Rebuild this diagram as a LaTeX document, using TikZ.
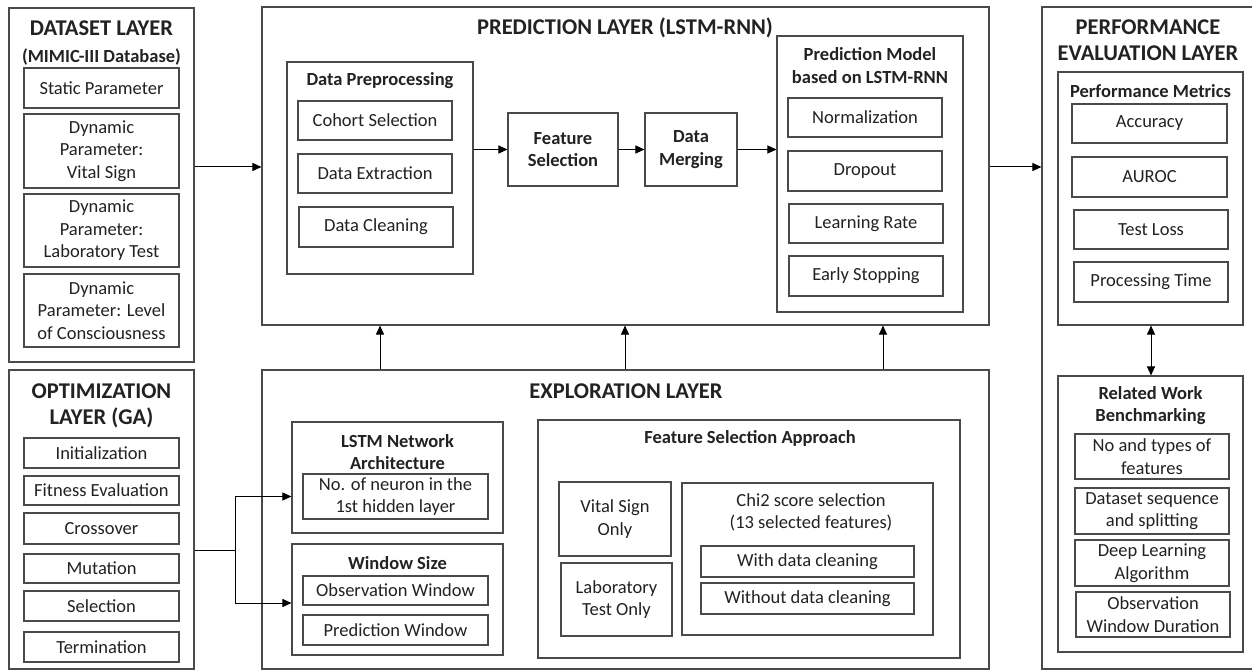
\documentclass[tikz,border=0pt]{standalone}
\usepackage{fontspec}
\setmainfont{Carlito}
\usetikzlibrary{arrows.meta}
\definecolor{lc}{HTML}{4A4A4A}
\definecolor{tc}{HTML}{222222}
\newcommand\myNf{\fontsize{18.5}{22.5}\selectfont}
\newcommand\mySf{\fontsize{18.5}{22.5}\selectfont\bfseries}
\newcommand\myTf{\fontsize{22.5}{26}\selectfont\bfseries}
\begin{document}
\begin{tikzpicture}[x=1pt,y=-1pt,
  box/.style={draw=lc, line width=1.1pt, inner sep=0pt, align=center, font=\myNf, text=tc},
  sz/.style 2 args={minimum width=#1pt, minimum height=#2pt},
  ttl/.style={inner sep=0pt, align=center, font=\myTf, text=tc},
  sub/.style={inner sep=0pt, align=center, font=\mySf, text=tc},
  txt/.style={inner sep=0pt, align=center, font=\myNf, text=tc},
  arr/.style={draw=black, line width=1pt, -{Triangle[length=9pt,width=8pt]}},
  ln/.style={draw=black, line width=1pt}]
\useasboundingbox (0,0) rectangle (1252,671);
\fill[white] (0,0) rectangle (1252,671);

% ---------- DATASET LAYER ----------
\node[box, sz={185}{354}] (ds) at (101.5,185) {};
\node[ttl] (dsT) at (101.5,28) {DATASET LAYER};
\node[sub] (dsS) at (101.5,57) {(MIMIC-III Database)};
\node[box, sz={155}{40}] (sp) at (101.5,88) {Static Parameter};
\node[box, sz={155}{74}] (vs) at (101.5,151) {Dynamic\\Parameter:\\Vital Sign};
\node[box, sz={155}{73}] (lt) at (101.5,230.5) {Dynamic\\Parameter:\\Laboratory Test};
\node[box, sz={155}{73}] (lc) at (101.5,310.5) {Dynamic\\Parameter: Level\\of Consciousness};

% ---------- OPTIMIZATION LAYER ----------
\node[box, sz={185}{299}] (opt) at (101.5,519.5) {};
\node[ttl] (optT1) at (101.5,391) {OPTIMIZATION};
\node[ttl] (optT2) at (101.5,418) {LAYER (GA)};
\node[box, sz={155}{30}] (ini) at (101.5,453) {Initialization};
\node[box, sz={155}{29}] (fit) at (101.5,490.5) {Fitness Evaluation};
\node[box, sz={155}{31}] (cro) at (101.5,528.5) {Crossover};
\node[box, sz={155}{29}] (mut) at (101.5,568.5) {Mutation};
\node[box, sz={155}{30}] (sel) at (101.5,606) {Selection};
\node[box, sz={155}{30}] (ter) at (101.5,647) {Termination};

% ---------- PREDICTION LAYER ----------
\node[box, sz={727}{318}] (pred) at (625.5,166) {};
\node[ttl] (predT) at (625,28) {PREDICTION LAYER (LSTM-RNN)};
\node[box, sz={186}{212}] (dp) at (380,168) {};
\node[sub] (dpT) at (380,81) {Data Preprocessing};
\node[box, sz={154}{39}] (coh) at (375,120.5) {Cohort Selection};
\node[box, sz={154}{39}] (ext) at (375,173.5) {Data Extraction};
\node[box, sz={154}{40}] (cln) at (376,227) {Data Cleaning};
\node[box, sz={110}{73}, font=\mySf] (fs) at (563,149.5) {Feature\\Selection};
\node[box, sz={92}{73}, font=\mySf] (dm) at (691,149.5) {Data\\Merging};
\node[box, sz={186}{276}] (pm) at (870,174) {};
\node[sub] (pmT) at (870,65.5) {Prediction Model\\based on LSTM-RNN};
\node[box, sz={154}{39}] (nor) at (865,117.5) {Normalization};
\node[box, sz={154}{40}] (dro) at (865,171) {Dropout};
\node[box, sz={154}{39}] (lr) at (866,223.5) {Learning Rate};
\node[box, sz={154}{40}] (es) at (866,276) {Early Stopping};

% ---------- PERFORMANCE EVALUATION LAYER ----------
\node[box, sz={222}{662}] (perf) at (1153,338) {};
\node[ttl] (perfT) at (1148,40.5) {PERFORMANCE\\EVALUATION LAYER};
\node[box, sz={185}{253}] (met) at (1150.5,198.5) {};
\node[sub] (metT) at (1150.5,91) {Performance Metrics};
\node[box, sz={155}{39}] (acc) at (1149.5,123.5) {Accuracy};
\node[box, sz={155}{40}] (aur) at (1149.5,177) {AUROC};
\node[box, sz={154}{39}] (tl) at (1151,229.5) {Test Loss};
\node[box, sz={154}{40}] (pt) at (1151,282) {Processing Time};
\node[box, sz={185}{276}] (rw) at (1150.5,514) {};
\node[sub] (rwT) at (1150.5,405.5) {Related Work\\Benchmarking};
\node[box, sz={154}{45}] (nt) at (1152,456.5) {No and types of\\features};
\node[box, sz={154}{46}] (dss) at (1152,511) {Dataset sequence\\and splitting};
\node[box, sz={154}{46}] (dla) at (1152,563) {Deep Learning\\Algorithm};
\node[box, sz={154}{45}] (owd) at (1153,614.5) {Observation\\Window Duration};

% ---------- EXPLORATION LAYER ----------
\node[box, sz={727}{299}] (expl) at (625.5,519.5) {};
\node[ttl] (explT) at (626,391) {EXPLORATION LAYER};
\node[box, sz={211}{111}] (lstm) at (397.5,477.5) {};
\node[sub] (lstmT) at (397.5,452) {LSTM Network\\Architecture};
\node[box, sz={185}{45}] (nn) at (395.5,496.5) {No. of neuron in the\\1st hidden layer};
\node[box, sz={211}{111}] (win) at (397.5,599.5) {};
\node[sub] (winT) at (397.5,563) {Window Size};
\node[box, sz={185}{29}] (ow) at (395.5,590.5) {Observation Window};
\node[box, sz={185}{30}] (pw) at (395.5,630) {Prediction Window};
\node[box, sz={422}{238}] (fsa) at (749,539) {};
\node[sub] (fsaT) at (750,438) {Feature Selection Approach};
\node[box, sz={112}{74}] (vso) at (615,519) {Vital Sign\\Only};
\node[box, sz={111}{73}] (lto) at (616.5,599.5) {Laboratory\\Test Only};
\node[box, sz={251}{152}] (chi) at (807.5,559) {};
\node[txt] (chiT) at (811,512.5) {Chi2 score selection\\(13 selected features)};
\node[box, sz={213}{31}] (wdc) at (807.5,561.5) {With data cleaning};
\node[box, sz={213}{31}] (wodc) at (807.5,598.5) {Without data cleaning};

% ---------- CONNECTORS ----------
\draw[arr] (ds.east |- 0,167) -- (pred.west |- 0,167);
\draw[arr] (dp.east |- fs.west) -- (fs.west);
\draw[arr] (fs.east) -- (dm.west);
\draw[arr] (dm.east) -- (pm.west |- dm.east);
\draw[arr] (pred.east |- 0,167) -- (perf.west |- 0,167);
\draw[ln, {Triangle[length=9pt,width=8pt]}-{Triangle[length=9pt,width=8pt]}] (met.south -| 1151,0) -- (rw.north -| 1151,0);
\draw[arr] (expl.north -| 380,0) -- (pred.south -| 380,0);
\draw[arr] (expl.north -| 625,0) -- (pred.south -| 625,0);
\draw[arr] (expl.north -| 883,0) -- (pred.south -| 883,0);
\coordinate (j) at (235,550);
\draw[ln] (opt.east |- j) -- (j);
\draw[arr] (j) |- (lstm.west |- nn.west);
\draw[arr] (j) |- (win.west |- 0,603);
\end{tikzpicture}
\end{document}
